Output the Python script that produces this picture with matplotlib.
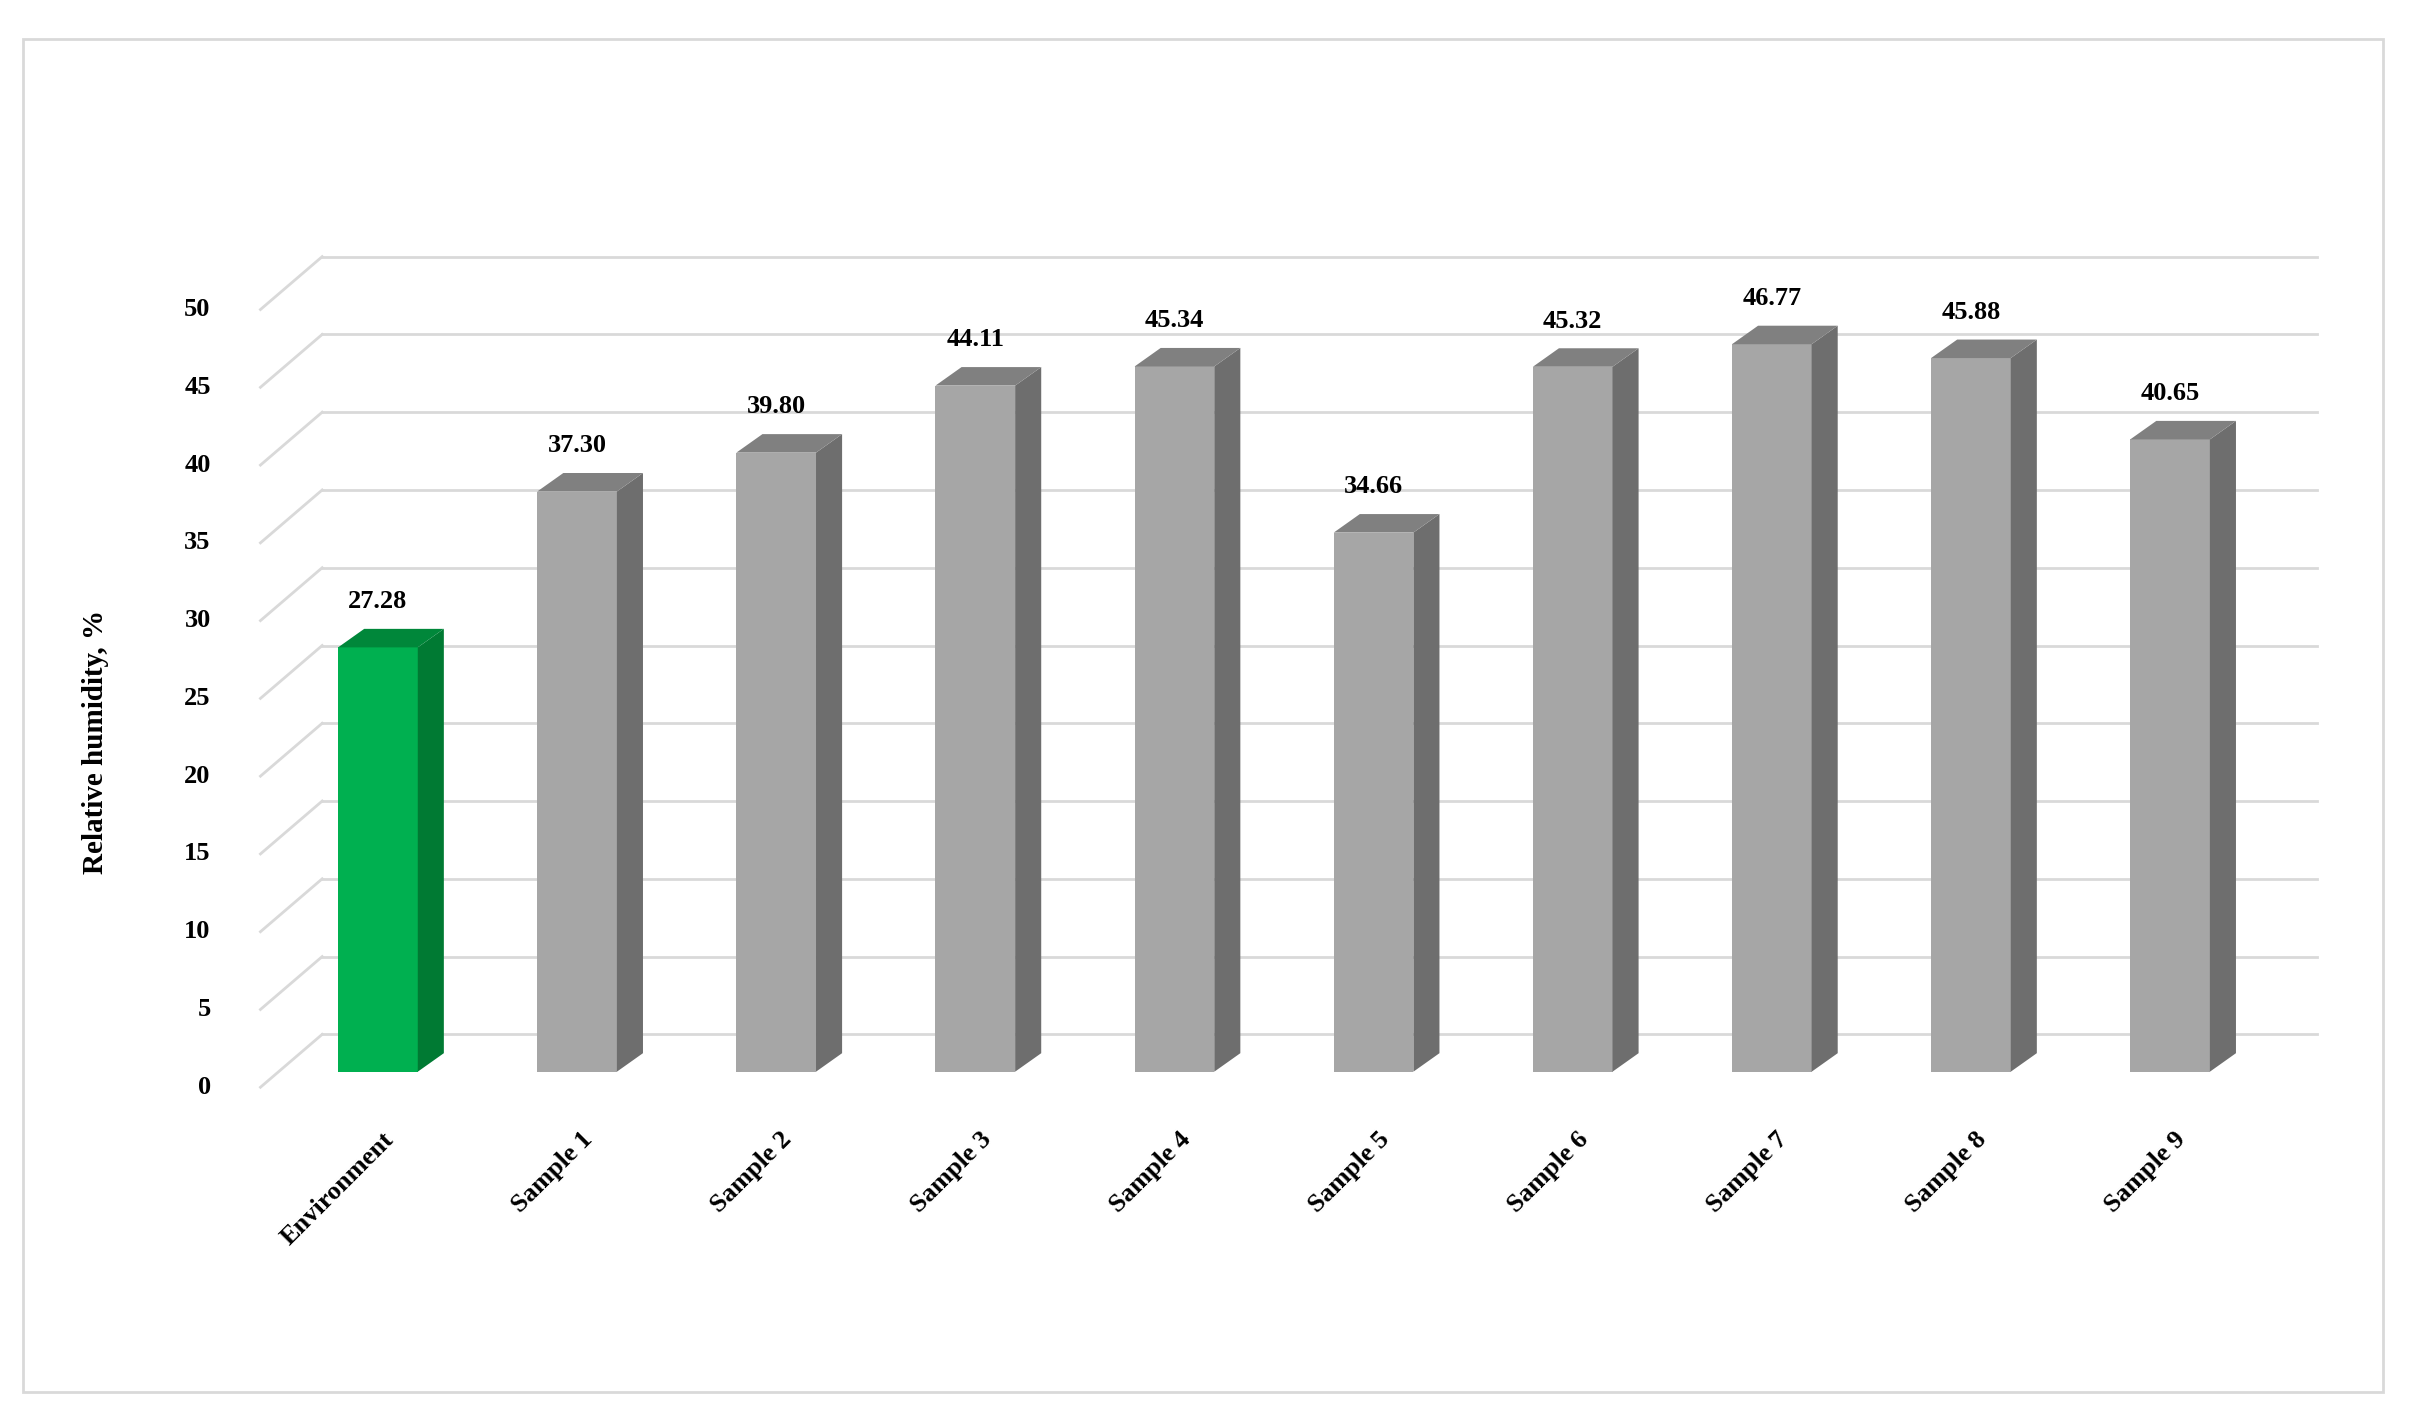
import matplotlib.pyplot as plt
from matplotlib.patches import Polygon, Rectangle

categories = ['Environment', 'Sample 1', 'Sample 2', 'Sample 3', 'Sample 4',
              'Sample 5', 'Sample 6', 'Sample 7', 'Sample 8', 'Sample 9']
values = [27.28, 37.30, 39.80, 44.11, 45.34, 34.66, 45.32, 46.77, 45.88, 40.65]
yticks = list(range(0, 55, 5))

plt.rcParams['font.family'] = ['Liberation Serif', 'DejaVu Serif']

fig = plt.figure(figsize=(24.09, 14.17), dpi=100)
ax = fig.add_axes([0, 0, 1, 1])
ax.set_xlim(-1.898, 10.2)
ax.set_ylim(-22.2, 68.9)
ax.axis('off')

# frame
ax.add_patch(Rectangle((-1.78, -20.6), 11.85, 87.0, fill=False, ec='#D9D9D9', lw=2))

# pseudo-3D grid: back wall lines + floor diagonals
back_x0, back_x1, front_x = -0.28, 9.74, -0.59
back_dy, front_dy = 2.4, -1.0
for k in yticks:
    ax.plot([back_x0, back_x1], [k + back_dy, k + back_dy], color='#D9D9D9', lw=2, zorder=1)
    ax.plot([front_x, back_x0], [k + front_dy, k + back_dy], color='#D9D9D9', lw=2, zorder=1)
    ax.text(front_x - 0.25, k + front_dy, str(k), ha='right', va='center',
            fontsize=19, fontweight='bold')

w, dx, dy = 0.4, 0.131, 1.19
for i, (cat, v) in enumerate(zip(categories, values)):
    if i == 0:
        front, side, top = '#00B050', '#007A33', '#00873A'
    else:
        front, side, top = '#A6A6A6', '#6E6E6E', '#808080'
    xl, xr = i - w / 2, i + w / 2
    ax.add_patch(Rectangle((xl, 0), w, v, fc=front, ec='none', zorder=3))
    ax.add_patch(Polygon([(xr, 0), (xr + dx, dy), (xr + dx, v + dy), (xr, v)],
                         fc=side, ec='none', zorder=3))
    ax.add_patch(Polygon([(xl, v), (xr, v), (xr + dx, v + dy), (xl + dx, v + dy)],
                         fc=top, ec='none', zorder=3))
    ax.text(i, v + 2.2, f'{v:.2f}', ha='center', va='bottom', fontsize=19,
            fontweight='bold', zorder=4)
    ax.text(i + 0.02, -3.6, cat, ha='right', va='top', rotation=45,
            rotation_mode='anchor', fontsize=19, fontweight='bold')

ax.text(-1.42, 21.2, 'Relative humidity, %', ha='center', va='center', rotation=90,
        fontsize=21, fontweight='bold')

fig.savefig('out.png', dpi=100)
